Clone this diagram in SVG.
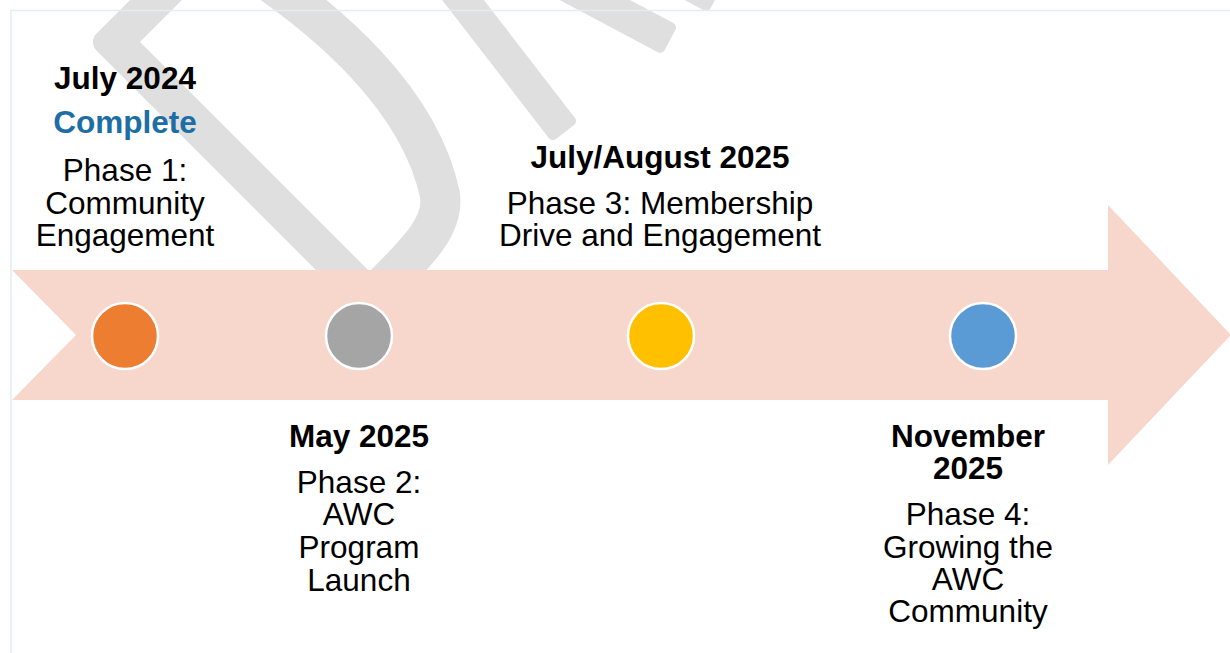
<svg xmlns="http://www.w3.org/2000/svg" width="1230" height="653" viewBox="0 0 1230 653">
  <style>
    .wm { fill: #dfdfdf; }
    .wm-line { fill: none; stroke: #dfdfdf; stroke-width: 40; }
    .frame { fill: none; stroke: #e2edf7; stroke-width: 1.5; }
    .band { fill: #f7d7cc; }
    .dot { stroke: #ffffff; stroke-width: 2.5; }
    text { font-family: "Liberation Sans", Arial, sans-serif; font-size: 31.5px; text-anchor: middle; fill: #000000; }
    .title { font-weight: bold; }
    .status { font-weight: bold; fill: #1c6ea4; }
  </style>

  <rect x="0" y="0" width="1230" height="653" fill="#ffffff"/>

  <!-- faint logo watermark behind the timeline -->
  <g id="watermark">
    <path class="wm" d="M170,-40 L96.5,33.5 A12,12 0 0 0 96.5,50.5 L366,320 L418,320 L140,42 L222,-40 Z"/>
    <path class="wm-line" d="M240,-38 C330,20 420,100 440,195 C445,232 405,262 370,300"/>
    <rect class="wm" x="-220" y="-16.5" width="220" height="33" rx="5" transform="translate(565,132) rotate(52.3)"/>
    <rect class="wm" x="-220" y="-16.5" width="220" height="33" rx="5" transform="translate(670,40) rotate(28)"/>
    <rect class="wm" x="-220" y="-16.5" width="220" height="33" rx="5" transform="translate(716,-2) rotate(28)"/>
  </g>

  <!-- page frame -->
  <path class="frame" d="M11,653 L11,10.5 L1230,10.5"/>

  <!-- timeline arrow -->
  <g id="connectors">
    <path class="band" d="M12,270 L1108,270 L1108,205 L1231,335 L1108,465 L1108,400 L12,400 L76,335 Z"/>
  </g>

  <g id="phase1">
    <circle class="dot" cx="125" cy="336" r="33" fill="#ed7d31"/>
    <text class="title" x="125" y="89">July 2024</text>
    <text class="status" x="125" y="133">Complete</text>
    <text x="125" y="181">Phase 1:</text>
    <text x="125" y="214">Community</text>
    <text x="125" y="246">Engagement</text>
  </g>

  <g id="phase2">
    <circle class="dot" cx="359" cy="336" r="33" fill="#a5a5a5"/>
    <text class="title" x="359" y="447">May 2025</text>
    <text x="359" y="493">Phase 2:</text>
    <text x="359" y="525">AWC</text>
    <text x="359" y="558">Program</text>
    <text x="359" y="591">Launch</text>
  </g>

  <g id="phase3">
    <circle class="dot" cx="661" cy="336" r="33" fill="#ffc000"/>
    <text class="title" x="660" y="168">July/August 2025</text>
    <text x="660" y="214">Phase 3: Membership</text>
    <text x="660" y="246">Drive and Engagement</text>
  </g>

  <g id="phase4">
    <circle class="dot" cx="983" cy="336" r="33" fill="#5b9bd5"/>
    <text class="title" x="968" y="447">November</text>
    <text class="title" x="968" y="479">2025</text>
    <text x="968" y="525">Phase 4:</text>
    <text x="968" y="558">Growing the</text>
    <text x="968" y="590">AWC</text>
    <text x="968" y="622">Community</text>
  </g>
</svg>
